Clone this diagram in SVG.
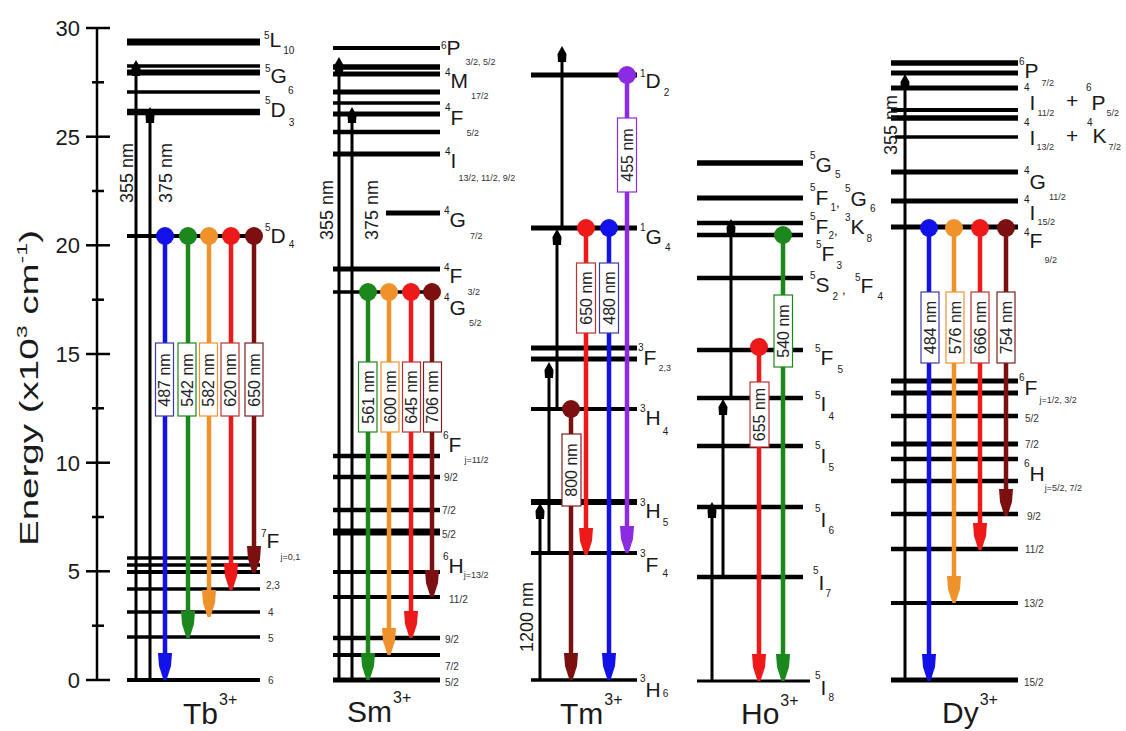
<svg xmlns="http://www.w3.org/2000/svg" xmlns:xlink="http://www.w3.org/1999/xlink" width="1126" height="731" viewBox="0 0 1126 731">
<style>
.t{font-family:"Liberation Sans",Arial,sans-serif;fill:#1a1a1a}
.m{font-size:21px}
.s{font-size:10px}
.f{font-size:9px;fill:#333}
.c{font-size:13px}
.n{font-size:10px;fill:#333}
.lv line{stroke:#000}
.ex{stroke:#000;stroke-width:3}
.em{stroke-width:4.5}
.bx{fill:#fff;stroke-width:1.2}
.bt{font-family:"Liberation Sans",Arial,sans-serif;font-size:16px;fill:#222;text-anchor:middle}
.rl{font-family:"Liberation Sans",Arial,sans-serif;font-size:18px;fill:#1a1a1a;text-anchor:middle}
.tk{stroke:#000;stroke-width:2.5}
.tl{font-family:"Liberation Sans",Arial,sans-serif;font-size:22px;fill:#1a1a1a;text-anchor:end}
.ion{font-family:"Liberation Sans",Arial,sans-serif;font-size:30px;fill:#1a1a1a}
.ion .p{font-size:16px}
</style>
<defs>
<path id="hd" d="M-7,-27 L7,-27 L6,-14 L1.5,0 L-1.5,0 L-6,-14 Z"/>
<path id="up" d="M0,0 L4.5,8 L4,16 L-4,16 L-4.5,8 Z"/>
</defs>
<rect width="1126" height="731" fill="#fff"/>

<g id="axis">
<line class="tk" x1="97" y1="27" x2="97" y2="681"/>
<line class="tk" x1="86" y1="28" x2="110" y2="28"/>
<line class="tk" x1="86" y1="136.7" x2="110" y2="136.7"/>
<line class="tk" x1="86" y1="245.3" x2="110" y2="245.3"/>
<line class="tk" x1="86" y1="354" x2="110" y2="354"/>
<line class="tk" x1="86" y1="462.7" x2="110" y2="462.7"/>
<line class="tk" x1="86" y1="571.3" x2="110" y2="571.3"/>
<line class="tk" x1="86" y1="680" x2="110" y2="680"/>
<line class="tk" x1="92" y1="82.3" x2="104" y2="82.3"/>
<line class="tk" x1="92" y1="191" x2="104" y2="191"/>
<line class="tk" x1="92" y1="299.7" x2="104" y2="299.7"/>
<line class="tk" x1="92" y1="408.3" x2="104" y2="408.3"/>
<line class="tk" x1="92" y1="517" x2="104" y2="517"/>
<line class="tk" x1="92" y1="625.7" x2="104" y2="625.7"/>
<text class="tl" x="80" y="36">30</text>
<text class="tl" x="80" y="145">25</text>
<text class="tl" x="80" y="253">20</text>
<text class="tl" x="80" y="362">15</text>
<text class="tl" x="80" y="471">10</text>
<text class="tl" x="80" y="579">5</text>
<text class="tl" x="80" y="688">0</text>
<text class="t" transform="translate(38,388) rotate(-90)" text-anchor="middle" font-size="25" textLength="316" lengthAdjust="spacingAndGlyphs" fill="#222">Energy (x10<tspan font-size="15" dy="-11">3</tspan><tspan dy="11"> cm</tspan><tspan font-size="15" dy="-11">-1</tspan><tspan dy="11">)</tspan></text>
</g>

<g id="tb">
<g class="lv">
<line x1="127" y1="42" x2="260" y2="42" stroke-width="7"/>
<line x1="127" y1="66" x2="260" y2="66" stroke-width="3.5"/>
<line x1="127" y1="72.5" x2="260" y2="72.5" stroke-width="6"/>
<line x1="127" y1="92" x2="260" y2="92" stroke-width="3.5"/>
<line x1="127" y1="112" x2="260" y2="112" stroke-width="6.5"/>
<line x1="127" y1="236" x2="262" y2="236" stroke-width="4"/>
<line x1="127" y1="558" x2="260" y2="558" stroke-width="3.5"/>
<line x1="127" y1="565" x2="260" y2="565" stroke-width="3.5"/>
<line x1="127" y1="572" x2="260" y2="572" stroke-width="4"/>
<line x1="127" y1="589" x2="260" y2="589" stroke-width="3.5"/>
<line x1="127" y1="612" x2="260" y2="612" stroke-width="3.5"/>
<line x1="127" y1="637" x2="260" y2="637" stroke-width="3.5"/>
<line x1="127" y1="680" x2="260" y2="680" stroke-width="4"/>
</g>
<text class="t" x="264"><tspan class="s" y="39">5</tspan><tspan class="m" y="47">L</tspan><tspan class="s" y="54" dx="2">10</tspan></text>
<text class="t" x="265"><tspan class="s" y="72">5</tspan><tspan class="m" y="83">G</tspan><tspan class="s" y="94" dx="1">6</tspan></text>
<text class="t" x="265"><tspan class="s" y="104">5</tspan><tspan class="m" y="117">D</tspan><tspan class="s" y="126" dx="3">3</tspan></text>
<text class="t" x="265"><tspan class="s" y="231">5</tspan><tspan class="m" y="243">D</tspan><tspan class="s" y="248" dx="3">4</tspan></text>
<text class="t" x="261"><tspan class="s" y="537">7</tspan><tspan class="m" y="548">F</tspan><tspan class="f" y="560" dx="1">j=0,1</tspan></text>
<text class="t n" x="266" y="589">2,3</text>
<text class="t n" x="268" y="616">4</text>
<text class="t n" x="268" y="642">5</text>
<text class="t n" x="268" y="684">6</text>
<text class="ion" x="183" y="724">Tb<tspan class="p" y="705" dx="1">3+</tspan></text>
</g>

<g id="sm">
<g class="lv">
<line x1="333" y1="48" x2="440" y2="48" stroke-width="4"/>
<line x1="333" y1="67" x2="440" y2="67" stroke-width="5.5"/>
<line x1="333" y1="74" x2="440" y2="74" stroke-width="5"/>
<line x1="333" y1="92" x2="440" y2="92" stroke-width="5"/>
<line x1="333" y1="103" x2="440" y2="103" stroke-width="3.5"/>
<line x1="333" y1="114" x2="440" y2="114" stroke-width="5"/>
<line x1="333" y1="132" x2="440" y2="132" stroke-width="4.5"/>
<line x1="333" y1="154" x2="440" y2="154" stroke-width="5"/>
<line x1="386" y1="213" x2="440" y2="213" stroke-width="5"/>
<line x1="333" y1="269" x2="440" y2="269" stroke-width="5"/>
<line x1="333" y1="292" x2="440" y2="292" stroke-width="3.5"/>
<line x1="333" y1="456" x2="440" y2="456" stroke-width="4.5"/>
<line x1="333" y1="477" x2="440" y2="477" stroke-width="4.5"/>
<line x1="333" y1="510" x2="440" y2="510" stroke-width="4.5"/>
<line x1="333" y1="532" x2="440" y2="532" stroke-width="7"/>
<line x1="333" y1="572" x2="440" y2="572" stroke-width="4"/>
<line x1="333" y1="597" x2="440" y2="597" stroke-width="4"/>
<line x1="333" y1="638" x2="440" y2="638" stroke-width="4.5"/>
<line x1="333" y1="655" x2="440" y2="655" stroke-width="4"/>
<line x1="333" y1="680" x2="440" y2="680" stroke-width="5"/>
</g>
<text class="t" x="441"><tspan class="s" y="49">6</tspan><tspan class="m" y="55">P</tspan><tspan class="f" y="65" dx="5">3/2, 5/2</tspan></text>
<text class="t" x="445"><tspan class="s" y="76">4</tspan><tspan class="m" y="88">M</tspan><tspan class="f" y="99" dx="3">17/2</tspan></text>
<text class="t" x="445"><tspan class="s" y="111">4</tspan><tspan class="m" y="125">F</tspan><tspan class="f" y="136" dx="3">5/2</tspan></text>
<text class="t" x="445"><tspan class="s" y="155">4</tspan><tspan class="m" y="168">I</tspan><tspan class="f" y="181" dx="2">13/2, 11/2, 9/2</tspan></text>
<text class="t" x="444"><tspan class="s" y="214">4</tspan><tspan class="m" y="227">G</tspan><tspan class="f" y="239" dx="4">7/2</tspan></text>
<text class="t" x="444"><tspan class="s" y="271">4</tspan><tspan class="m" y="283">F</tspan><tspan class="f" y="295" dx="5">3/2</tspan></text>
<text class="t" x="444"><tspan class="s" y="301">4</tspan><tspan class="m" y="315">G</tspan><tspan class="f" y="326" dx="3">5/2</tspan></text>
<text class="t" x="443"><tspan class="s" y="439">6</tspan><tspan class="m" y="452">F</tspan><tspan class="f" y="463" dx="3">j=11/2</tspan></text>
<text class="t n" x="444" y="481">9/2</text>
<text class="t n" x="442" y="514">7/2</text>
<text class="t n" x="442" y="538">5/2</text>
<text class="t" x="443"><tspan class="s" y="560">6</tspan><tspan class="m" y="573">H</tspan><tspan class="f" y="578" dx="0">j=13/2</tspan></text>
<text class="t n" x="449" y="603">11/2</text>
<text class="t n" x="445" y="643">9/2</text>
<text class="t n" x="445" y="670">7/2</text>
<text class="t n" x="445" y="686">5/2</text>
<text class="ion" x="347" y="722">Sm<tspan class="p" y="703" dx="1">3+</tspan></text>
</g>

<g id="tm">
<g class="lv">
<line x1="531" y1="75" x2="637" y2="75" stroke-width="5"/>
<line x1="531" y1="228" x2="637" y2="228" stroke-width="5"/>
<line x1="531" y1="348" x2="637" y2="348" stroke-width="5"/>
<line x1="531" y1="359" x2="637" y2="359" stroke-width="5"/>
<line x1="531" y1="409" x2="637" y2="409" stroke-width="4"/>
<line x1="531" y1="502" x2="637" y2="502" stroke-width="6"/>
<line x1="531" y1="553" x2="637" y2="553" stroke-width="4"/>
<line x1="531" y1="680" x2="637" y2="680" stroke-width="3.5"/>
</g>
<text class="t" x="640"><tspan class="s" y="77">1</tspan><tspan class="m" y="88">D</tspan><tspan class="s" y="96" dx="3">2</tspan></text>
<text class="t" x="640"><tspan class="s" y="231">1</tspan><tspan class="m" y="244">G</tspan><tspan class="s" y="251" dx="3">4</tspan></text>
<text class="t" x="638"><tspan class="s" y="351">3</tspan><tspan class="m" y="365">F</tspan><tspan class="f" y="371" dx="2">2,3</tspan></text>
<text class="t" x="640"><tspan class="s" y="412">3</tspan><tspan class="m" y="425">H</tspan><tspan class="s" y="435" dx="2">4</tspan></text>
<text class="t" x="640"><tspan class="s" y="506">3</tspan><tspan class="m" y="518">H</tspan><tspan class="s" y="526" dx="2">5</tspan></text>
<text class="t" x="640"><tspan class="s" y="557">3</tspan><tspan class="m" y="572">F</tspan><tspan class="s" y="577" dx="4">4</tspan></text>
<text class="t" x="640"><tspan class="s" y="682">3</tspan><tspan class="m" y="697">H</tspan><tspan class="s" y="697" dx="2">6</tspan></text>
<text class="ion" x="560" y="724">Tm<tspan class="p" y="705" dx="1">3+</tspan></text>
</g>

<g id="ho">
<g class="lv">
<line x1="697" y1="163" x2="803" y2="163" stroke-width="5.5"/>
<line x1="697" y1="198" x2="803" y2="198" stroke-width="5"/>
<line x1="697" y1="223" x2="803" y2="223" stroke-width="4.5"/>
<line x1="697" y1="235" x2="803" y2="235" stroke-width="4.5"/>
<line x1="697" y1="278" x2="803" y2="278" stroke-width="4.5"/>
<line x1="697" y1="350" x2="803" y2="350" stroke-width="4.5"/>
<line x1="697" y1="398" x2="803" y2="398" stroke-width="4.5"/>
<line x1="697" y1="446" x2="803" y2="446" stroke-width="4.5"/>
<line x1="697" y1="507" x2="803" y2="507" stroke-width="4.5"/>
<line x1="697" y1="577" x2="803" y2="577" stroke-width="4.5"/>
<line x1="697" y1="681" x2="810" y2="681" stroke-width="3"/>
</g>
<text class="t" x="810"><tspan class="s" y="159">5</tspan><tspan class="m" y="172">G</tspan><tspan class="s" y="178" dx="3">5</tspan></text>
<text class="t"><tspan class="s" x="810" y="191">5</tspan><tspan class="m" y="205">F</tspan><tspan class="s" y="211" dx="2">1</tspan><tspan class="c" y="207">,</tspan><tspan class="s" x="845" y="192">5</tspan><tspan class="m" y="206">G</tspan><tspan class="s" y="212" dx="3">6</tspan></text>
<text class="t"><tspan class="s" x="810" y="220">5</tspan><tspan class="m" y="234">F</tspan><tspan class="s" y="239" dx="0">2</tspan><tspan class="c" y="235">,</tspan><tspan class="s" x="845" y="221">3</tspan><tspan class="m" y="234">K</tspan><tspan class="s" y="242" dx="2">8</tspan></text>
<text class="t" x="816"><tspan class="s" y="248">5</tspan><tspan class="m" y="261">F</tspan><tspan class="s" y="269" dx="2">3</tspan></text>
<text class="t"><tspan class="s" x="810" y="279">5</tspan><tspan class="m" y="292">S</tspan><tspan class="s" y="300" dx="3">2</tspan><tspan class="c" x="842" y="294">,</tspan><tspan class="s" x="855" y="281">5</tspan><tspan class="m" y="293">F</tspan><tspan class="s" y="300" dx="4">4</tspan></text>
<text class="t" x="815"><tspan class="s" y="352">5</tspan><tspan class="m" y="365">F</tspan><tspan class="s" y="373" dx="4">5</tspan></text>
<text class="t" x="815"><tspan class="s" y="399">5</tspan><tspan class="m" y="411">I</tspan><tspan class="s" y="420" dx="2">4</tspan></text>
<text class="t" x="815"><tspan class="s" y="449">5</tspan><tspan class="m" y="463">I</tspan><tspan class="s" y="471" dx="2">5</tspan></text>
<text class="t" x="815"><tspan class="s" y="512">5</tspan><tspan class="m" y="527">I</tspan><tspan class="s" y="534" dx="2">6</tspan></text>
<text class="t" x="813"><tspan class="s" y="574">5</tspan><tspan class="m" y="590">I</tspan><tspan class="s" y="597" dx="1">7</tspan></text>
<text class="t" x="815"><tspan class="s" y="679">5</tspan><tspan class="m" y="695">I</tspan><tspan class="s" y="701" dx="2">8</tspan></text>
<text class="ion" x="741" y="724">Ho<tspan class="p" y="706" dx="1">3+</tspan></text>
</g>

<g id="dy">
<g class="lv">
<line x1="891" y1="63" x2="1018" y2="63" stroke-width="5.5"/>
<line x1="891" y1="73" x2="1018" y2="73" stroke-width="5"/>
<line x1="891" y1="88" x2="1018" y2="88" stroke-width="5"/>
<line x1="891" y1="110" x2="1018" y2="110" stroke-width="4"/>
<line x1="891" y1="118" x2="1018" y2="118" stroke-width="5.5"/>
<line x1="895" y1="137" x2="1018" y2="137" stroke-width="3.5"/>
<line x1="891" y1="172" x2="1018" y2="172" stroke-width="5"/>
<line x1="891" y1="201" x2="1018" y2="201" stroke-width="5"/>
<line x1="891" y1="227" x2="1018" y2="227" stroke-width="5"/>
<line x1="891" y1="381" x2="1018" y2="381" stroke-width="5"/>
<line x1="891" y1="393" x2="1018" y2="393" stroke-width="5"/>
<line x1="891" y1="416" x2="1018" y2="416" stroke-width="4.5"/>
<line x1="891" y1="444" x2="1018" y2="444" stroke-width="5"/>
<line x1="891" y1="459" x2="1018" y2="459" stroke-width="4.5"/>
<line x1="891" y1="481" x2="1018" y2="481" stroke-width="4.5"/>
<line x1="891" y1="514" x2="1018" y2="514" stroke-width="4.5"/>
<line x1="891" y1="549" x2="1018" y2="549" stroke-width="4.5"/>
<line x1="891" y1="603" x2="1018" y2="603" stroke-width="4"/>
<line x1="891" y1="680" x2="1018" y2="680" stroke-width="5"/>
</g>
<text class="t" x="1019"><tspan class="s" y="65">6</tspan><tspan class="m" y="78">P</tspan><tspan class="f" y="86" dx="3">7/2</tspan></text>
<text class="t"><tspan class="s" x="1024" y="91">4</tspan><tspan class="m" y="110">I</tspan><tspan class="f" y="116" dx="2">11/2</tspan><tspan class="m" x="1066" y="108">+</tspan><tspan class="s" x="1086" y="91">6</tspan><tspan class="m" y="110">P</tspan><tspan class="f" y="116" dx="1">5/2</tspan></text>
<text class="t"><tspan class="s" x="1024" y="126">4</tspan><tspan class="m" y="145">I</tspan><tspan class="f" y="150" dx="1">13/2</tspan><tspan class="m" x="1066" y="143">+</tspan><tspan class="s" x="1087" y="126">4</tspan><tspan class="m" y="143">K</tspan><tspan class="f" y="150" dx="2">7/2</tspan></text>
<text class="t" x="1024"><tspan class="s" y="174">4</tspan><tspan class="m" y="189">G</tspan><tspan class="f" y="200" dx="3">11/2</tspan></text>
<text class="t" x="1024"><tspan class="s" y="203">4</tspan><tspan class="m" y="220">I</tspan><tspan class="f" y="225" dx="2">15/2</tspan></text>
<text class="t" x="1024"><tspan class="s" y="236">4</tspan><tspan class="m" y="248">F</tspan><tspan class="f" y="263" dx="2">9/2</tspan></text>
<text class="t" x="1019"><tspan class="s" y="381">6</tspan><tspan class="m" y="395">F</tspan><tspan class="f" y="403" dx="2">j=1/2, 3/2</tspan></text>
<text class="t n" x="1025" y="422">5/2</text>
<text class="t n" x="1025" y="448">7/2</text>
<text class="t" x="1024"><tspan class="s" y="467">6</tspan><tspan class="m" y="481">H</tspan><tspan class="f" y="491" dx="0">j=5/2, 7/2</tspan></text>
<text class="t n" x="1027" y="520">9/2</text>
<text class="t n" x="1025" y="553">11/2</text>
<text class="t n" x="1024" y="607">13/2</text>
<text class="t n" x="1024" y="686">15/2</text>
<text class="ion" x="942" y="723">Dy<tspan class="p" y="705" dx="1">3+</tspan></text>
</g>

<g id="connectors">
<line class="ex" x1="136" y1="681" x2="136" y2="66"/><use xlink:href="#up" x="136" y="60"/>
<line class="ex" x1="150" y1="681" x2="150" y2="114"/><use xlink:href="#up" x="150" y="107"/>
<text class="rl" transform="translate(133,173) rotate(-90)">355 nm</text>
<text class="rl" transform="translate(172,173) rotate(-90)">375 nm</text>
<line class="ex" x1="339" y1="681" x2="339" y2="62"/><use xlink:href="#up" x="339" y="57"/>
<line class="ex" x1="352" y1="681" x2="352" y2="112"/><use xlink:href="#up" x="352" y="107"/>
<text class="rl" transform="translate(333,210) rotate(-90)">355 nm</text>
<text class="rl" transform="translate(378,210) rotate(-90)">375 nm</text>
<line class="ex" x1="540" y1="681" x2="540" y2="508"/><use xlink:href="#up" x="540" y="503"/>
<line class="ex" x1="549" y1="553" x2="549" y2="367"/><use xlink:href="#up" x="549" y="362"/>
<line class="ex" x1="557" y1="409" x2="557" y2="234"/><use xlink:href="#up" x="557" y="229"/>
<line class="ex" x1="562" y1="228" x2="562" y2="51"/><use xlink:href="#up" x="562" y="46"/>
<text class="rl" transform="translate(533,617) rotate(-90)">1200 nm</text>
<line class="ex" x1="712" y1="681" x2="712" y2="507"/><use xlink:href="#up" x="712" y="502"/>
<line class="ex" x1="723" y1="577" x2="723" y2="404"/><use xlink:href="#up" x="723" y="399"/>
<line class="ex" x1="731" y1="398" x2="731" y2="224"/><use xlink:href="#up" x="731" y="219"/>
<line class="ex" x1="905" y1="681" x2="905" y2="79"/><use xlink:href="#up" x="905" y="74"/>
<text class="rl" transform="translate(897,125) rotate(-90)">355 nm</text>

<g stroke="#1212e8" fill="#1212e8"><line class="em" x1="165" y1="236" x2="165" y2="660"/><circle cx="165" cy="236" r="9" stroke="none"/><use xlink:href="#hd" x="165" y="680" stroke="none"/></g>
<g stroke="#1c871c" fill="#1c871c"><line class="em" x1="188" y1="236" x2="188" y2="618"/><circle cx="188" cy="236" r="9" stroke="none"/><use xlink:href="#hd" x="188" y="638" stroke="none"/></g>
<g stroke="#f0922c" fill="#f0922c"><line class="em" x1="209" y1="236" x2="209" y2="597"/><circle cx="209" cy="236" r="9" stroke="none"/><use xlink:href="#hd" x="209" y="617" stroke="none"/></g>
<g stroke="#ee1a1a" fill="#ee1a1a"><line class="em" x1="231" y1="236" x2="231" y2="570"/><circle cx="231" cy="236" r="9" stroke="none"/><use xlink:href="#hd" x="231" y="590" stroke="none"/></g>
<g stroke="#7c1010" fill="#7c1010"><line class="em" x1="254" y1="236" x2="254" y2="553"/><circle cx="254" cy="236" r="9" stroke="none"/><use xlink:href="#hd" x="254" y="573" stroke="none"/></g>
<rect class="bx" x="155.5" y="343" width="18" height="73" stroke="#3a3aa8"/>
<rect class="bx" x="178" y="343" width="18" height="73" stroke="#1c871c"/>
<rect class="bx" x="199.5" y="343" width="18" height="73" stroke="#f0922c"/>
<rect class="bx" x="221" y="343" width="18" height="73" stroke="#c03030"/>
<rect class="bx" x="245" y="343" width="18" height="73" stroke="#7a2020"/>
<text class="bt" transform="translate(170,380) rotate(-90)">487 nm</text>
<text class="bt" transform="translate(192.5,380) rotate(-90)">542 nm</text>
<text class="bt" transform="translate(214,380) rotate(-90)">582 nm</text>
<text class="bt" transform="translate(235.5,380) rotate(-90)">620 nm</text>
<text class="bt" transform="translate(259.5,380) rotate(-90)">650 nm</text>

<g stroke="#1c871c" fill="#1c871c"><line class="em" x1="368" y1="292" x2="368" y2="660"/><circle cx="368" cy="292" r="9" stroke="none"/><use xlink:href="#hd" x="368" y="680" stroke="none"/></g>
<g stroke="#f0922c" fill="#f0922c"><line class="em" x1="389" y1="292" x2="389" y2="635"/><circle cx="389" cy="292" r="9" stroke="none"/><use xlink:href="#hd" x="389" y="655" stroke="none"/></g>
<g stroke="#ee1a1a" fill="#ee1a1a"><line class="em" x1="411" y1="292" x2="411" y2="618"/><circle cx="411" cy="292" r="9" stroke="none"/><use xlink:href="#hd" x="411" y="638" stroke="none"/></g>
<g stroke="#7c1010" fill="#7c1010"><line class="em" x1="432" y1="292" x2="432" y2="577"/><circle cx="432" cy="292" r="9" stroke="none"/><use xlink:href="#hd" x="432" y="597" stroke="none"/></g>
<rect class="bx" x="358.5" y="362" width="18.5" height="70" stroke="#1c871c"/>
<rect class="bx" x="381" y="362" width="18" height="70" stroke="#f0922c"/>
<rect class="bx" x="402.5" y="362" width="18" height="70" stroke="#c03030"/>
<rect class="bx" x="423.5" y="362" width="18" height="70" stroke="#7a2020"/>
<text class="bt" transform="translate(373.5,397) rotate(-90)">561 nm</text>
<text class="bt" transform="translate(395.5,397) rotate(-90)">600 nm</text>
<text class="bt" transform="translate(417,397) rotate(-90)">645 nm</text>
<text class="bt" transform="translate(438,397) rotate(-90)">706 nm</text>

<g stroke="#8b2be2" fill="#8b2be2"><line class="em" x1="627" y1="75" x2="627" y2="533"/><circle cx="627" cy="75" r="9" stroke="none"/><use xlink:href="#hd" x="627" y="553" stroke="none"/></g>
<g stroke="#ee1a1a" fill="#ee1a1a"><line class="em" x1="586" y1="228" x2="586" y2="535"/><circle cx="586" cy="228" r="9" stroke="none"/><use xlink:href="#hd" x="586" y="555" stroke="none"/></g>
<g stroke="#1212e8" fill="#1212e8"><line class="em" x1="609" y1="228" x2="609" y2="660"/><circle cx="609" cy="228" r="9" stroke="none"/><use xlink:href="#hd" x="609" y="680" stroke="none"/></g>
<g stroke="#7c1010" fill="#7c1010"><line class="em" x1="571" y1="409" x2="571" y2="660"/><circle cx="571" cy="409" r="9" stroke="none"/><use xlink:href="#hd" x="571" y="680" stroke="none"/></g>
<rect class="bx" x="617.5" y="118" width="19" height="74" stroke="#8b2be2"/>
<rect class="bx" x="576.5" y="263" width="19" height="70" stroke="#c03030"/>
<rect class="bx" x="599.5" y="263" width="19" height="70" stroke="#3a3aa8"/>
<rect class="bx" x="562" y="434" width="19" height="72" stroke="#7a2020"/>
<text class="bt" transform="translate(632.5,155) rotate(-90)">455 nm</text>
<text class="bt" transform="translate(591.5,298) rotate(-90)">650 nm</text>
<text class="bt" transform="translate(614.5,298) rotate(-90)">480 nm</text>
<text class="bt" transform="translate(577,470) rotate(-90)">800 nm</text>

<g stroke="#1c871c" fill="#1c871c"><line class="em" x1="783" y1="235" x2="783" y2="661"/><circle cx="783" cy="235" r="9" stroke="none"/><use xlink:href="#hd" x="783" y="681" stroke="none"/></g>
<g stroke="#ee1a1a" fill="#ee1a1a"><line class="em" x1="759" y1="347" x2="759" y2="661"/><circle cx="759" cy="347" r="9" stroke="none"/><use xlink:href="#hd" x="759" y="681" stroke="none"/></g>
<rect class="bx" x="774" y="295" width="18.5" height="72" stroke="#1c871c"/>
<rect class="bx" x="750" y="382" width="19" height="65" stroke="#c03030"/>
<text class="bt" transform="translate(789,331) rotate(-90)">540 nm</text>
<text class="bt" transform="translate(765,414.5) rotate(-90)">655 nm</text>

<g stroke="#1212e8" fill="#1212e8"><line class="em" x1="929" y1="228" x2="929" y2="661"/><circle cx="929" cy="228" r="9" stroke="none"/><use xlink:href="#hd" x="929" y="681" stroke="none"/></g>
<g stroke="#f0922c" fill="#f0922c"><line class="em" x1="954" y1="228" x2="954" y2="583"/><circle cx="954" cy="228" r="9" stroke="none"/><use xlink:href="#hd" x="954" y="603" stroke="none"/></g>
<g stroke="#ee1a1a" fill="#ee1a1a"><line class="em" x1="980" y1="228" x2="980" y2="530"/><circle cx="980" cy="228" r="9" stroke="none"/><use xlink:href="#hd" x="980" y="550" stroke="none"/></g>
<g stroke="#7c1010" fill="#7c1010"><line class="em" x1="1006" y1="228" x2="1006" y2="496"/><circle cx="1006" cy="228" r="9" stroke="none"/><use xlink:href="#hd" x="1006" y="516" stroke="none"/></g>
<rect class="bx" x="921" y="292" width="18" height="71" stroke="#3a3aa8"/>
<rect class="bx" x="946" y="292" width="18" height="71" stroke="#f0922c"/>
<rect class="bx" x="971" y="292" width="18" height="71" stroke="#c03030"/>
<rect class="bx" x="997" y="292" width="18" height="71" stroke="#7a2020"/>
<text class="bt" transform="translate(935.5,327.5) rotate(-90)">484 nm</text>
<text class="bt" transform="translate(960.5,327.5) rotate(-90)">576 nm</text>
<text class="bt" transform="translate(985.5,327.5) rotate(-90)">666 nm</text>
<text class="bt" transform="translate(1011.5,327.5) rotate(-90)">754 nm</text>
</g>
</svg>
